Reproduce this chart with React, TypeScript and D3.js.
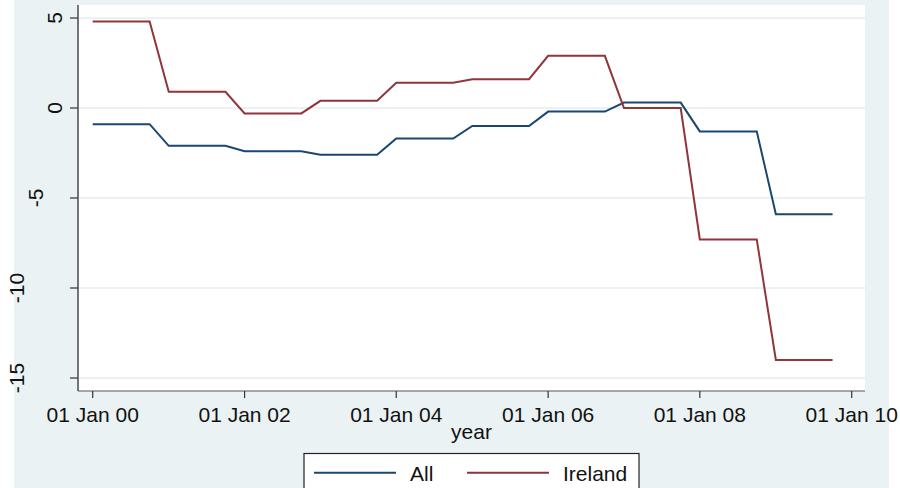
import React from "react";
import * as d3 from "d3";

const years = [2000, 2001, 2002, 2003, 2004, 2005, 2006, 2007, 2008, 2009];
const quarterMonths = [0, 3, 6, 9];
const allValues = [-0.9, -2.1, -2.4, -2.6, -1.7, -1.0, -0.2, 0.3, -1.3, -5.9];
const irelandValues = [4.8, 0.9, -0.3, 0.4, 1.4, 1.6, 2.9, 0.0, -7.3, -14.0];
const yTicks = [5, 0, -5, -10, -15];
const xTickYears = [2000, 2002, 2004, 2006, 2008, 2010];
const seriesNames = ["All", "Ireland"];
const seriesColors = ["#1a476f", "#90353b"];

type Pt = { date: Date; value: number };

function expand(values: number[]): Pt[] {
  const out: Pt[] = [];
  years.forEach((yr, i) => {
    quarterMonths.forEach((m) => out.push({ date: new Date(yr, m, 1), value: values[i] }));
  });
  return out;
}

const FONT = "'Liberation Sans', Arial, Helvetica, sans-serif";

export default function App() {
  const W = 900;
  const H = 488;
  const plotL = 78;
  const plotR = 865;
  const plotT = 5;
  const plotB = 391;

  const x = d3
    .scaleTime()
    .domain([new Date(2000, 0, 1), new Date(2010, 0, 1)])
    .range([92.7, 851.7]);
  const y = d3.scaleLinear().domain([5, -15]).range([18, 378]);

  const line = d3
    .line<Pt>()
    .x((d) => x(d.date))
    .y((d) => y(d.value));

  const series = [expand(allValues), expand(irelandValues)];
  const fmt = d3.timeFormat("%d %b %y");

  return (
    <svg
      width={W}
      height={H}
      style={{ position: "fixed", left: 0, top: 0, display: "block" }}
      fontFamily={FONT}
    >
      <rect x={0} y={0} width={W} height={H} fill="#ffffff" />
      <rect x={14} y={0} width={875} height={H} fill="#eaf2f3" />
      <rect x={plotL} y={plotT} width={plotR - plotL} height={plotB - plotT} fill="#ffffff" />

      {yTicks.map((t) => (
        <line
          key={"g" + t}
          x1={plotL + 1}
          x2={plotR}
          y1={y(t)}
          y2={y(t)}
          stroke="#e6eef1"
          strokeWidth={1.6}
        />
      ))}

      {series.map((s, i) => (
        <path
          key={seriesNames[i]}
          d={line(s) || ""}
          fill="none"
          stroke={seriesColors[i]}
          strokeWidth={2}
          strokeLinejoin="miter"
        />
      ))}

      <line x1={plotL} x2={plotL} y1={plotT} y2={plotB} stroke="#1e1e1e" strokeWidth={1.2} />
      <line x1={plotL} x2={plotR} y1={plotB} y2={plotB} stroke="#555" strokeWidth={1.2} />

      {yTicks.map((t) => {
        const label = String(t);
        const bx = 62 - 19 * (label.length - 1);
        return (
          <g key={"yt" + t}>
            <line x1={70} x2={plotL} y1={y(t)} y2={y(t)} stroke="#333" strokeWidth={1.2} />
            <text
              transform={`translate(${bx},${y(t)}) rotate(-90)`}
              textAnchor="middle"
              fontSize={21}
              fill="#111"
            >
              {label}
            </text>
          </g>
        );
      })}

      {xTickYears.map((yr) => {
        const d = new Date(yr, 0, 1);
        const px = x(d);
        return (
          <g key={"xt" + yr}>
            <line x1={px} x2={px} y1={plotB} y2={plotB + 7} stroke="#333" strokeWidth={1.2} />
            <text x={px} y={422} textAnchor="middle" fontSize={21} fill="#111">
              {fmt(d)}
            </text>
          </g>
        );
      })}

      <text x={(plotL + plotR) / 2} y={439} textAnchor="middle" fontSize={21} fill="#111">
        year
      </text>

      <rect x={304} y={453.5} width={335} height={50} fill="#ffffff" stroke="#222" strokeWidth={1.2} />
      <line x1={314} x2={396} y1={472.7} y2={472.7} stroke={seriesColors[0]} strokeWidth={2} />
      <text x={410} y={481} fontSize={21} fill="#111">
        {seriesNames[0]}
      </text>
      <line x1={467} x2={549} y1={472.7} y2={472.7} stroke={seriesColors[1]} strokeWidth={2} />
      <text x={563} y={481} fontSize={21} fill="#111">
        {seriesNames[1]}
      </text>
    </svg>
  );
}
